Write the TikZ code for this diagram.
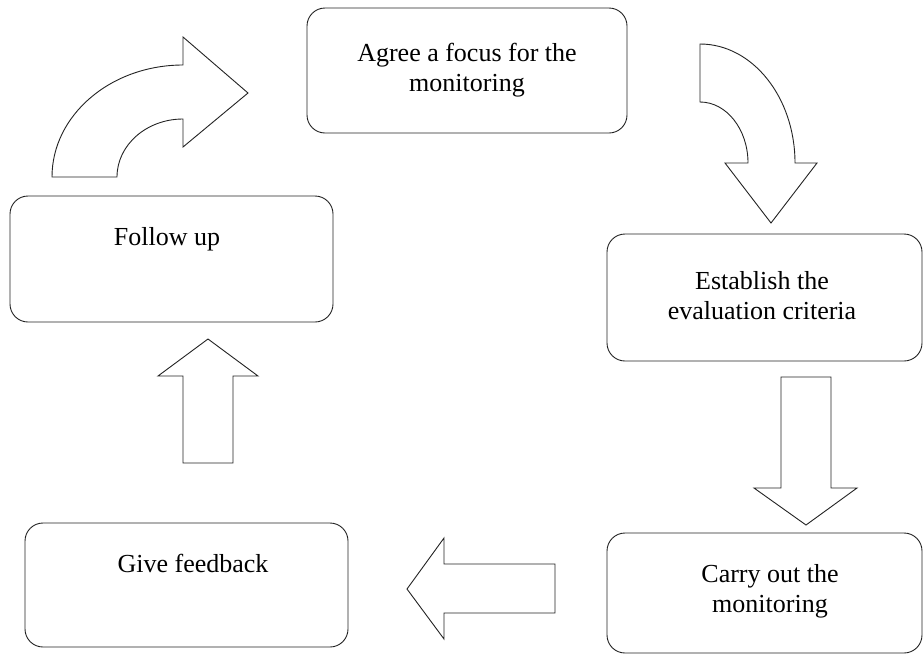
\documentclass[tikz,border=0pt]{standalone}
\usepackage{fontspec}
\setmainfont{Liberation Serif}
\definecolor{mlline}{RGB}{35,35,35}
\usetikzlibrary{positioning}

\tikzset{
  stagebox/.style={draw=mlline, line width=0.9pt, rounded corners=18pt,
    minimum width=320pt, minimum height=125pt, inner sep=0pt},
  stagetext/.style={align=center, inner sep=0pt, text=black},
  blockarrow/.style={draw=mlline, line width=0.9pt, fill=white, line join=miter}
}

\begin{document}
\begin{tikzpicture}[x=1pt, y=-1pt, every node/.style={font=\fontsize{26}{30}\selectfont}]
  \useasboundingbox (0,0) rectangle (923,654);

  % Stage boxes
  \node[stagebox] (agree) at (467,70.5) {};
  \node[stagebox, minimum width=315pt, minimum height=127pt] (establish) at (764.5,297.5) {};
  \node[stagebox, minimum width=315pt, minimum height=120pt] (carry) at (764.5,593) {};
  \node[stagebox, minimum width=323pt, minimum height=124pt] (feedback) at (186.5,585) {};
  \node[stagebox, minimum width=323pt, minimum height=126pt] (follow) at (171.5,259) {};

  % Stage texts
  \node[stagetext] (agreetxt) at (agree.center) {Agree a focus for the\\monitoring};
  \node[stagetext] (establishtxt) at (762,296) {Establish the\\evaluation criteria};
  \node[stagetext] (carrytxt) at (770,591) {Carry out the\\monitoring};
  \node[stagetext] (feedbacktxt) at (193,563) {Give feedback};
  \node[stagetext] (followtxt) at (167,239) {Follow up};

  % Curved arrow: follow up -> agree
  \draw[blockarrow] (52,177) -- (117,177)
    .. controls (117,145) and (146.6,119) .. (183,119)
    -- (183,147) -- (248,93) -- (183,37) -- (183,65)
    .. controls (110.7,65) and (52,115.2) .. (52,177) -- cycle;

  % Curved arrow: agree -> establish
  \draw[blockarrow] (700,44) -- (700,102)
    .. controls (726.5,102) and (748,129.3) .. (748,163)
    -- (725,163) -- (771,223) -- (817,163) -- (795,163)
    .. controls (795,97.3) and (752.4,44) .. (700,44) -- cycle;

  % Down arrow: establish -> carry
  \draw[blockarrow] (781,377) -- (831,377) -- (831,488) -- (857,488)
    -- (806,525) -- (754,488) -- (781,488) -- cycle;

  % Left arrow: carry -> feedback
  \draw[blockarrow] (555,564) -- (555,613) -- (444,613) -- (444,639)
    -- (407,589) -- (444,538) -- (444,564) -- cycle;

  % Up arrow: feedback -> follow up
  \draw[blockarrow] (183,463) -- (233,463) -- (233,376) -- (258,376)
    -- (208,339) -- (158,376) -- (183,376) -- cycle;
\end{tikzpicture}
\end{document}
